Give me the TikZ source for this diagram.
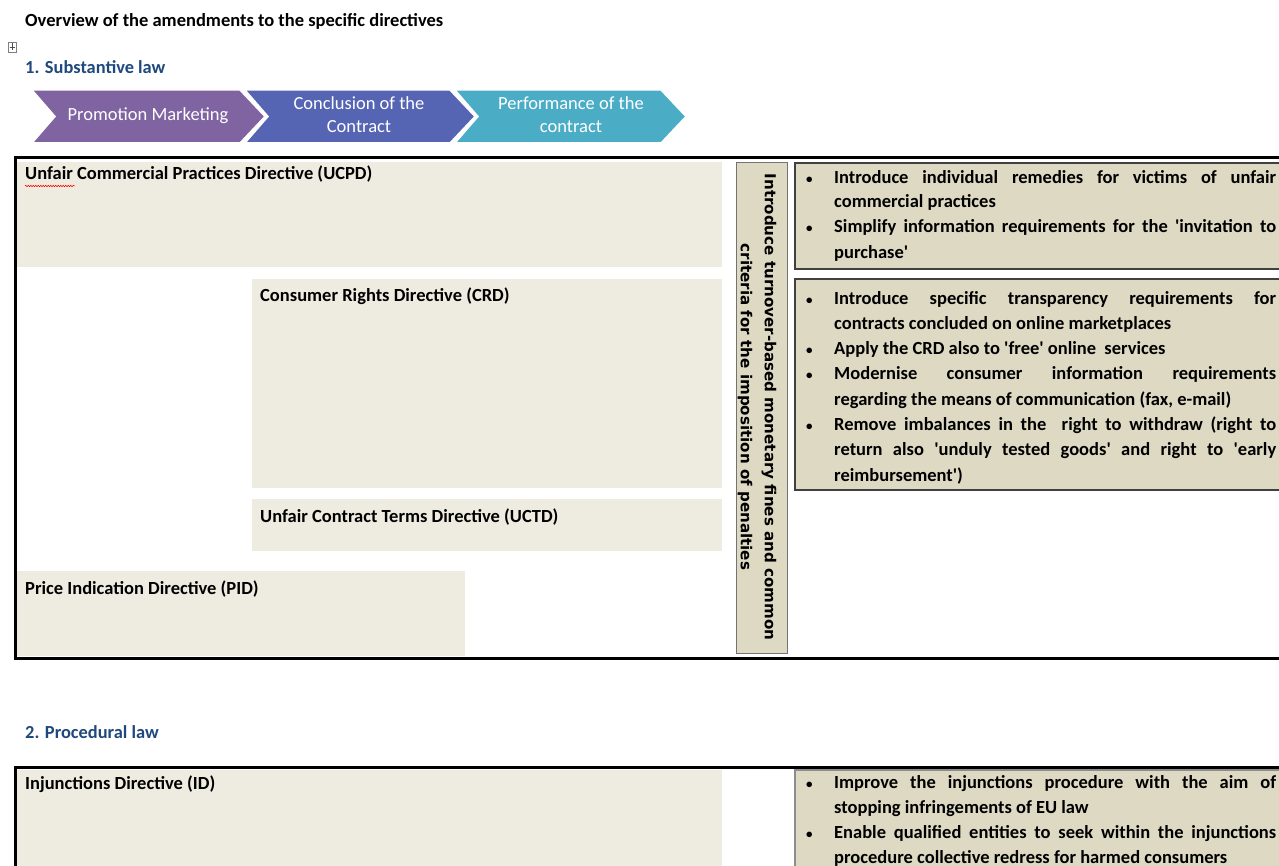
\documentclass[tikz,border=0pt]{standalone}
\usepackage{fontspec}
\setmainfont{Carlito}
\newfontfamily\calib{Carlito}
\newfontfamily\verd{DejaVu Sans}
\usetikzlibrary{decorations.pathmorphing}
\definecolor{tanL}{HTML}{EEECE1}
\definecolor{tanD}{HTML}{DDD9C3}
\definecolor{headblue}{HTML}{1F497D}
\definecolor{chpurple}{HTML}{8064A2}
\definecolor{chblue}{HTML}{5565B3}
\definecolor{chteal}{HTML}{4BACC6}
\newcommand\chev[3]{\fill[#3, draw=white, line width=1.5pt] (#1,90) -- (#2,90) -- (#2+25,116.5) -- (#2,143) -- (#1,143) -- (#1+23,116.5) -- cycle;}
\newcommand\rjl[3]{\node[rtxt] (#1) at (834,#2) {\makebox[442pt][s]{#3}};}
\newcommand\rll[3]{\node[rtxt] (#1) at (834,#2) {#3};}
\newcommand\rbul[2]{\node[rtxt] (#1) at (806,#2) {\fontsize{13}{13}\selectfont\textbullet};}
\begin{document}
\begin{tikzpicture}[x=1pt,y=-1pt,
 lbl/.style={anchor=base west, inner sep=0pt, font=\calib\fontsize{18.5}{22}\selectfont\bfseries},
 rtxt/.style={anchor=base west, inner sep=0pt, font=\calib\fontsize{18.5}{22}\selectfont\bfseries},
 head/.style={anchor=base west, inner sep=0pt, font=\calib\fontsize{18.4}{22}\selectfont\bfseries, text=headblue},
 chtext/.style={text=white, align=center, inner sep=0pt, font=\calib\fontsize{18.5}{23}\selectfont},
 frame/.style={draw=black, line width=3pt},
 rtbox/.style={fill=tanD, draw=black!75, line width=1.2pt},
]
\useasboundingbox (0,0) rectangle (1279,866);
\clip (0,0) rectangle (1279,866);
\fill[white] (0,0) rectangle (1279,866);

% title and headings
\node[lbl] (title) at (25,27) {Overview of the amendments to the specific directives};
\draw[gray, line width=0.5pt] (8,42) rectangle (16,52);
\draw[black!70, line width=0.5pt] (12,43.5) -- (12,50.5) (9.5,47) -- (14.5,47);
\node[head] (h1) at (25,74) {1. Substantive law};
\node[head] (h2) at (25,738) {2. Procedural law};

% chevrons
\chev{32}{240}{chpurple}
\chev{245}{450}{chblue}
\chev{455}{661}{chteal}
\node[chtext] (c1) at (148,116) {Promotion Marketing};
\node[chtext] (c2) at (359,115) {Conclusion of the\\Contract};
\node[chtext] (c3) at (571,115) {Performance of the\\contract};

% section 1 boxes
\fill[tanL] (17,162) rectangle (722,267);
\fill[tanL] (252,279) rectangle (722,488);
\fill[tanL] (252,499) rectangle (722,551);
\fill[tanL] (17,571) rectangle (465,656);
\draw[fill=tanD, draw=black!55, line width=1pt] (736,163) rectangle (787,653);
\draw[rtbox] (795,163) rectangle (1300,269);
\draw[rtbox] (795,279) rectangle (1300,490);
\draw[frame] (15,158) rectangle (1300,658);

\node[lbl] (ucpd) at (25,180) {Unfair Commercial Practices Directive (UCPD)};
\draw[red, line width=0.5pt, decorate, decoration={snake, amplitude=0.8pt, segment length=2.5pt}] (25,186) -- (75,186);
\node[lbl] (crd) at (260,302) {Consumer Rights Directive (CRD)};
\node[lbl] (uctd) at (260,522) {Unfair Contract Terms Directive (UCTD)};
\node[lbl] (pid) at (25,594) {Price Indication Directive (PID)};

\node[rotate=-90, align=center, inner sep=0pt, font=\verd\bfseries\fontsize{15.1}{24}\selectfont] (vt) at (757,407)
 {Introduce turnover-based monetary fines and common\\criteria for the imposition of penalties};

% right box 1
\rbul{b1}{184}\rjl{t1}{184}{Introduce individual remedies for victims of unfair}
\rll{t2}{208}{commercial practices}
\rbul{b2}{233}\rjl{t3}{233}{Simplify information requirements for the 'invitation to}
\rll{t4}{259}{purchase'}
% right box 2
\rbul{b3}{305}\rjl{t5}{305}{Introduce specific transparency requirements for}
\rll{t6}{330}{contracts concluded on online marketplaces}
\rbul{b4}{354}\rll{t7}{354}{Apply the CRD also to 'free' online\ \ services}
\rbul{b5}{379}\rjl{t8}{379}{Modernise consumer information requirements}
\rll{t9}{405}{regarding the means of communication (fax, e-mail)}
\rbul{b6}{430}\rjl{t10}{430}{Remove imbalances in the\ \ right to withdraw (right to}
\rjl{t11}{455}{return also 'unduly tested goods' and right to 'early}
\rll{t12}{481}{reimbursement')}

% section 2
\fill[tanL] (17,770) rectangle (722,880);
\draw[rtbox, draw=black!45] (795,770) rectangle (1300,880);
\draw[frame] (1300,767) -- (15,767) -- (15,880);
\node[lbl] (id) at (25,789) {Injunctions Directive (ID)};
\rbul{b7}{788}\rjl{t13}{788}{Improve the injunctions procedure with the aim of}
\rll{t14}{813}{stopping infringements of EU law}
\rbul{b8}{838}\rjl{t15}{838}{Enable qualified entities to seek within the injunctions}
\rll{t16}{863}{procedure collective redress for harmed consumers}
\end{tikzpicture}
\end{document}
